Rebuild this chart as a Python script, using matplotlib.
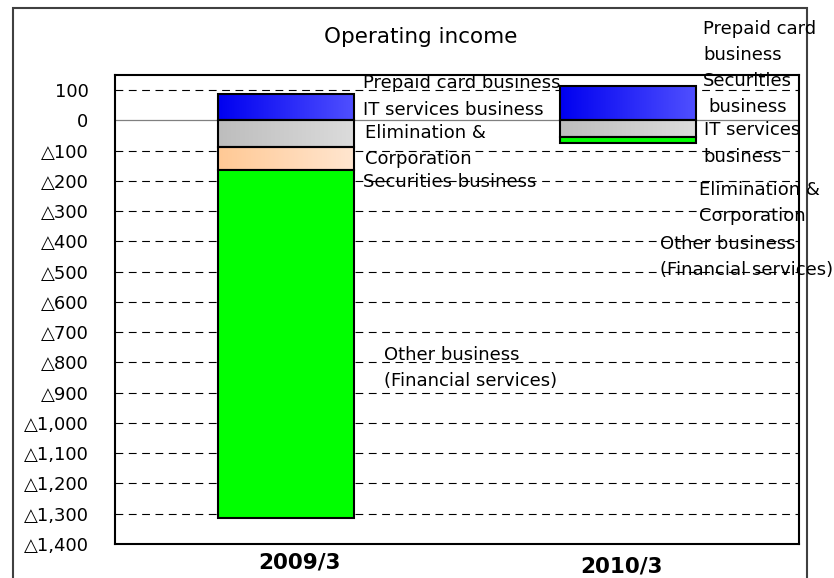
import matplotlib
matplotlib.use('Agg')
import matplotlib.pyplot as plt
import numpy as np
from matplotlib.colors import LinearSegmentedColormap
from matplotlib.patches import Rectangle

plt.rcParams['font.family'] = ['DejaVu Sans']

# Operating income by segment (millions of yen)
periods = ['2009/3', '2010/3']
prepaid_card = [88, 112]
it_services = [-88, -55]
elimination = [-75, 0]
other_business = [-1151, -20]

y_ticks = list(range(-1400, 101, 100))


def tick_label(v):
    if v < 0:
        return '\u25b3{:,}'.format(-v)
    return '{:,}'.format(v)


def gradient_bar(ax, x, bottom, height, width, c_left, c_right):
    """Bar filled with a left-to-right colour gradient."""
    if height == 0:
        return
    cmap = LinearSegmentedColormap.from_list('g', [c_left, c_right])
    grad = np.linspace(0, 1, 256).reshape(1, -1)
    y0, y1 = sorted([bottom, bottom + height])
    ax.imshow(grad, cmap=cmap, aspect='auto', zorder=2,
              extent=(x - width / 2, x + width / 2, y0, y1))
    ax.bar(x, height, width, bottom=bottom, facecolor='none',
           edgecolor='black', linewidth=1.5, zorder=3)


fig = plt.figure(figsize=(8.34, 5.78), dpi=100)
ax = fig.add_axes([115 / 834, 1 - 544 / 578, 684 / 834, 469 / 578])

width = 0.4
x = np.arange(len(periods))
for i in x:
    gradient_bar(ax, i, 0, prepaid_card[i], width, '#0000F0', '#5050FF')
    base = it_services[i]
    gradient_bar(ax, i, 0, it_services[i], width, '#BDBDBD', '#DCDCDC')
    gradient_bar(ax, i, base, elimination[i], width, '#FFC995', '#FFE6D0')
    base += elimination[i]
    ax.bar(i, other_business[i], width, bottom=base, color='#00FF00',
           edgecolor='black', linewidth=1.5, zorder=3)

# grid: dashed lines every 100, solid line at zero
for v in y_ticks:
    if v == 0:
        ax.axhline(0, color='#808080', lw=0.9, zorder=1)
    else:
        ax.axhline(v, color='black', lw=0.8, dashes=(7, 5), zorder=1)

ax.set_xlim(-0.5, 1.5)
ax.set_ylim(-1400, 150)
ax.set_yticks(y_ticks)
ax.set_yticklabels([tick_label(v) for v in y_ticks], fontsize=13)
ax.tick_params(axis='y', length=0, pad=19)
ax.set_xticks([])
for s in ax.spines.values():
    s.set_linewidth(1.5)

# period labels under the bars
fig.text(299 / 834, 1 - 563 / 578, periods[0], ha='center', va='center',
         fontsize=15.5, fontweight='bold')
fig.text(621 / 834, 1 - 567 / 578, periods[1], ha='center', va='center',
         fontsize=15.5, fontweight='bold')

fig.text(421 / 834, 1 - 37 / 578, 'Operating income', ha='center',
         va='center', fontsize=15.5)

# segment names beside each bar
labels_2009 = [
    (363, 83, 'Prepaid card business'),
    (363, 110, 'IT services business'),
    (365, 133, 'Elimination &'),
    (365, 159, 'Corporation'),
    (363, 182, 'Securities business'),
    (384, 355, 'Other business'),
    (384, 381, '(Financial services)'),
]
labels_2010 = [
    (703, 29, 'Prepaid card'),
    (703, 55, 'business'),
    (703, 81, 'Securities'),
    (708, 107, 'business'),
    (704, 130, 'IT services'),
    (703, 157, 'business'),
    (699, 190, 'Elimination &'),
    (699, 216, 'Corporation'),
    (660, 244, 'Other business'),
    (660, 270, '(Financial services)'),
]
for px, py, s in labels_2009 + labels_2010:
    fig.text(px / 834, 1 - py / 578, s, ha='left', va='center', fontsize=13)

# outer frame around the chart
fig.patches.append(Rectangle((13 / 834, -0.05), 794 / 834, 1.05 - 8 / 578,
                             transform=fig.transFigure, fill=False,
                             edgecolor='#404040', linewidth=1.5))

fig.savefig('out.png', dpi=100)
